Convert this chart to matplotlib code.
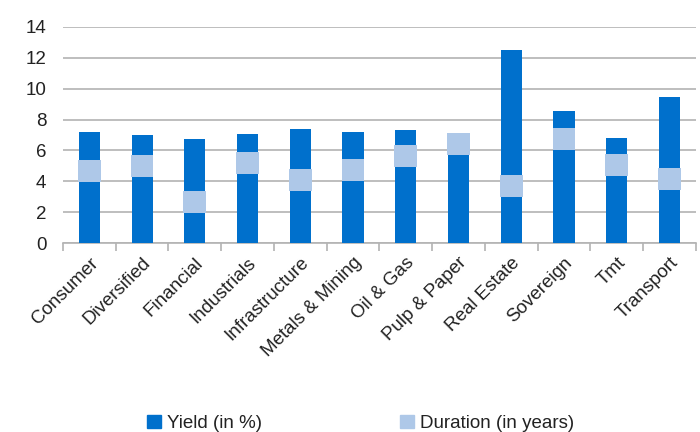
import matplotlib.pyplot as plt
import numpy as np
from matplotlib.patches import Patch

categories = ['Consumer', 'Diversified', 'Financial', 'Industrials', 'Infrastructure',
              'Metals & Mining', 'Oil & Gas', 'Pulp & Paper', 'Real Estate', 'Sovereign',
              'Tmt', 'Transport']
yield_pct = [7.21, 6.98, 6.74, 7.05, 7.39, 7.17, 7.32, 6.6, 12.49, 8.55, 6.79, 9.46]
duration_yrs = [4.68, 5.0, 2.68, 5.19, 4.09, 4.74, 5.64, 6.42, 3.70, 6.74, 5.06, 4.16]

dark = '#0070CC'
light = '#AEC8E8'
band = 1.42

plt.rcParams['font.family'] = ['Liberation Sans', 'DejaVu Sans']

fig = plt.figure(figsize=(7, 4.32), dpi=100)
ax = fig.add_axes([0.09, 0.437, 0.904, 0.501])

x = np.arange(len(categories))
ax.bar(x, yield_pct, width=0.4, color=dark, zorder=3)
ax.bar(x, [band] * len(x), bottom=[d - band / 2 for d in duration_yrs],
       width=0.43, color=light, zorder=4)

ax.set_ylim(0, 14)
ax.set_yticks(range(0, 15, 2))
ax.set_xlim(-0.5, len(categories) - 0.5)
ax.yaxis.grid(True, color='#b3b3b3', linewidth=1.2, zorder=0)
ax.set_axisbelow(True)

for s in ['left', 'right', 'top']:
    ax.spines[s].set_visible(False)
ax.spines['bottom'].set_color('#b3b3b3')
ax.spines['bottom'].set_linewidth(1.2)

ax.tick_params(axis='y', length=0, labelsize=13.5, colors='#222222', pad=12)
ax.set_xticks(x)
ax.set_xticklabels(categories, rotation=45, ha='right', rotation_mode='anchor',
                   fontsize=13.5, color='#222222')
ax.tick_params(axis='x', length=0, pad=8)
ax.set_xticks(np.arange(-0.5, len(categories), 1), minor=True)
ax.tick_params(axis='x', which='minor', length=6, color='#b3b3b3', width=1.2)

handles = [Patch(color=dark, label='Yield (in %)'),
           Patch(color=light, label='Duration (in years)')]
fig.legend(handles=handles, loc='center', bbox_to_anchor=(0.515, 0.02), ncol=2,
           frameon=False, fontsize=13.5, handlelength=0.75, handleheight=0.75,
           handletextpad=0.3, columnspacing=7.4, labelcolor='#222222')

fig.savefig('out.png', dpi=100)
